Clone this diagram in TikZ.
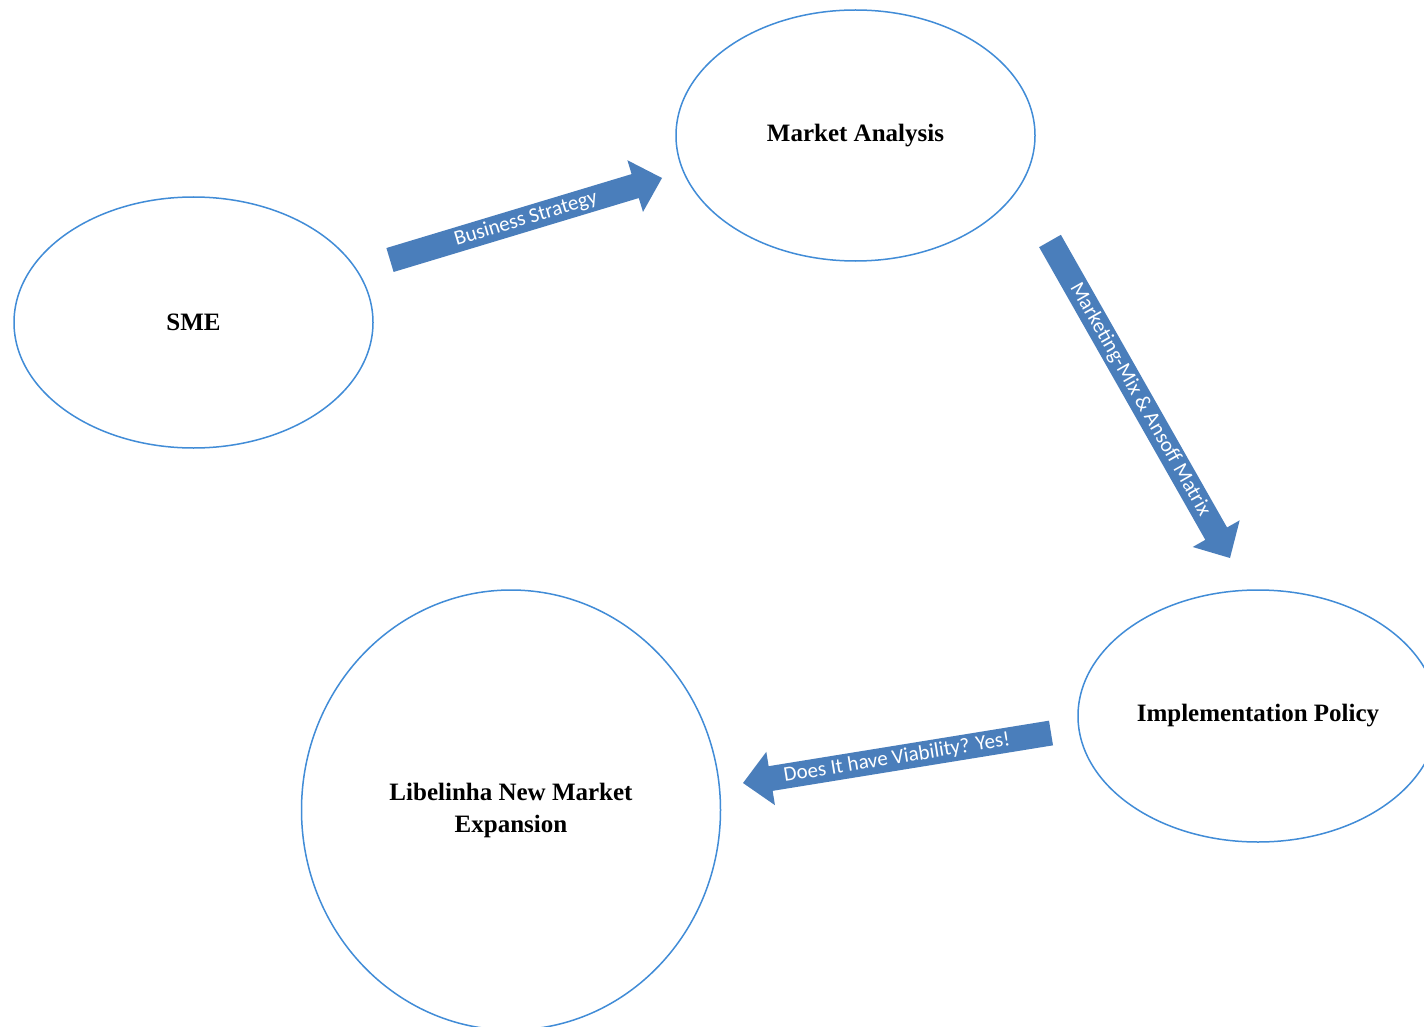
\documentclass[tikz,border=0pt]{standalone}
\usepackage{fontspec}
\setmainfont{Liberation Serif}
\newfontfamily\arrowfont{Carlito}
\usetikzlibrary{shapes.geometric,calc}
\definecolor{ringblue}{RGB}{65,140,215}
\definecolor{arrowblue}{RGB}{74,126,187}
\tikzset{
  bubble/.style={ellipse, draw=ringblue, line width=1.5pt, inner sep=0pt,
    font=\fontsize{25}{32}\selectfont\bfseries, align=center},
  arrowlabel/.style={text=white, font=\arrowfont\fontsize{21}{24}\selectfont,
    sloped, midway, inner sep=0pt}
}
\newcommand\flowarrow[3]{%
  \coordinate (#1#2b) at ($(#2)!28pt!(#1)$);
  \fill[arrowblue] ($(#1)!12.5pt!90:(#2)$) -- ($(#1#2b)!12.5pt!90:(#2)$)
     -- ($(#1#2b)!27pt!90:(#2)$) -- (#2) -- ($(#1#2b)!27pt!-90:(#2)$)
     -- ($(#1#2b)!12.5pt!-90:(#2)$) -- ($(#1)!12.5pt!-90:(#2)$) -- cycle;
  \path (#1) -- (#2) node[arrowlabel] {#3};
}
\begin{document}
\begin{tikzpicture}[x=1pt,y=-1pt]
\useasboundingbox (0,0) rectangle (1424,1027);
\clip (0,0) rectangle (1424,1027);
\fill[white] (0,0) rectangle (1424,1027);

\node[bubble, minimum width=359, minimum height=251] (sme) at (193.5,322.5) {SME};
\node[bubble, minimum width=359, minimum height=251] (ma) at (855.5,135.5) {Market Analysis};
\node[bubble, minimum width=360, minimum height=252] (impl) at (1258,716) {Implementation Policy};
\node[bubble, minimum width=419, minimum height=440] (lib) at (511,810) {Libelinha New Market\\Expansion};

\coordinate (t1) at (390,260);
\coordinate (h1) at (662,178);
\coordinate (t2) at (1050,241);
\coordinate (h2) at (1230,558);
\coordinate (t3) at (1051,733);
\coordinate (h3) at (743,783);

\flowarrow{t1}{h1}{Business Strategy}
\flowarrow{t2}{h2}{Marketing-Mix \& Ansoff Matrix}
\flowarrow{t3}{h3}{Does It have Viability? Yes!}
\end{tikzpicture}
\end{document}
